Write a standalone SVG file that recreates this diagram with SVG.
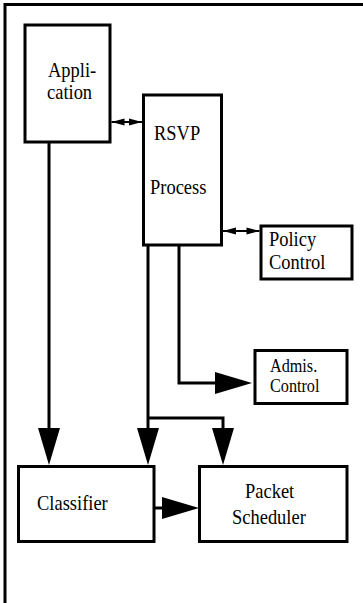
<svg xmlns="http://www.w3.org/2000/svg" width="363" height="603" viewBox="0 0 363 603">
<style>
.box{fill:#fff;stroke:#000;stroke-width:3}
.ln{fill:none;stroke:#000;stroke-width:3}
.thin{fill:none;stroke:#000;stroke-width:2}
.t{fill:#000}
</style>
<defs>
<marker id="big" markerUnits="userSpaceOnUse" markerWidth="40" markerHeight="24" refX="0" refY="11" orient="auto" overflow="visible">
<path d="M0,0 L37,11 L0,22 z" fill="#000"/>
</marker>
<marker id="sm" markerUnits="userSpaceOnUse" markerWidth="14" markerHeight="8" refX="13" refY="3.5" orient="auto-start-reverse" overflow="visible">
<path d="M0,0 L13,3.5 L0,7 z" fill="#000"/>
</marker>
</defs>
<rect width="363" height="603" fill="#fff"/>
<polyline class="ln" points="5,603 5,4.5 363,4.5"/>
<g id="connectors">
<line class="ln" x1="49" y1="142" x2="49" y2="428" marker-end="url(#big)"/>
<line class="ln" x1="148" y1="245" x2="148" y2="428" marker-end="url(#big)"/>
<polyline class="ln" points="148,418 223,418 223,428" marker-end="url(#big)"/>
<polyline class="ln" points="179,245 179,383 215,383" marker-end="url(#big)"/>
<line class="ln" x1="154" y1="508" x2="162" y2="508" marker-end="url(#big)"/>
<line class="thin" x1="111.5" y1="122" x2="142" y2="122" marker-start="url(#sm)" marker-end="url(#sm)"/>
<line class="thin" x1="223" y1="231" x2="259.5" y2="231" marker-start="url(#sm)" marker-end="url(#sm)"/>
</g>
<g font-family="Liberation Serif, Times New Roman, DejaVu Serif, serif" font-size="22">
<g id="application">
<rect class="box" x="25" y="25" width="85" height="117"/>
<text class="t" x="48" y="77" transform="translate(48 77) scale(0.84 1) translate(-48 -77)">Appli-</text>
<text class="t" x="47" y="99" transform="translate(47 99) scale(0.84 1) translate(-47 -99)">cation</text>
</g>
<g id="rsvp">
<rect class="box" x="143.5" y="95" width="78" height="150"/>
<text class="t" x="154" y="140" transform="translate(154 140) scale(0.84 1) translate(-154 -140)">RSVP</text>
<text class="t" x="150" y="194" transform="translate(150 194) scale(0.84 1) translate(-150 -194)">Process</text>
</g>
<g id="policy">
<rect class="box" x="261" y="226" width="91" height="53"/>
<text class="t" x="269" y="246" transform="translate(269 246) scale(0.84 1) translate(-269 -246)">Policy</text>
<text class="t" x="269" y="269" transform="translate(269 269) scale(0.84 1) translate(-269 -269)">Control</text>
</g>
<g id="admis">
<rect class="box" x="255" y="350.5" width="92" height="53"/>
<text class="t" x="270" y="372" font-size="18" transform="translate(270 372) scale(0.9 1) translate(-270 -372)">Admis.</text>
<text class="t" x="270" y="392" font-size="18" transform="translate(270 392) scale(0.9 1) translate(-270 -392)">Control</text>
</g>
<g id="classifier">
<rect class="box" x="18.5" y="466.5" width="135.5" height="75"/>
<text class="t" x="37" y="510" transform="translate(37 510) scale(0.84 1) translate(-37 -510)">Classifier</text>
</g>
<g id="scheduler">
<rect class="box" x="199.5" y="466.5" width="147.5" height="75"/>
<text class="t" x="245" y="498" transform="translate(245 498) scale(0.84 1) translate(-245 -498)">Packet</text>
<text class="t" x="232" y="524" transform="translate(232 524) scale(0.84 1) translate(-232 -524)">Scheduler</text>
</g>
</g>
</svg>
